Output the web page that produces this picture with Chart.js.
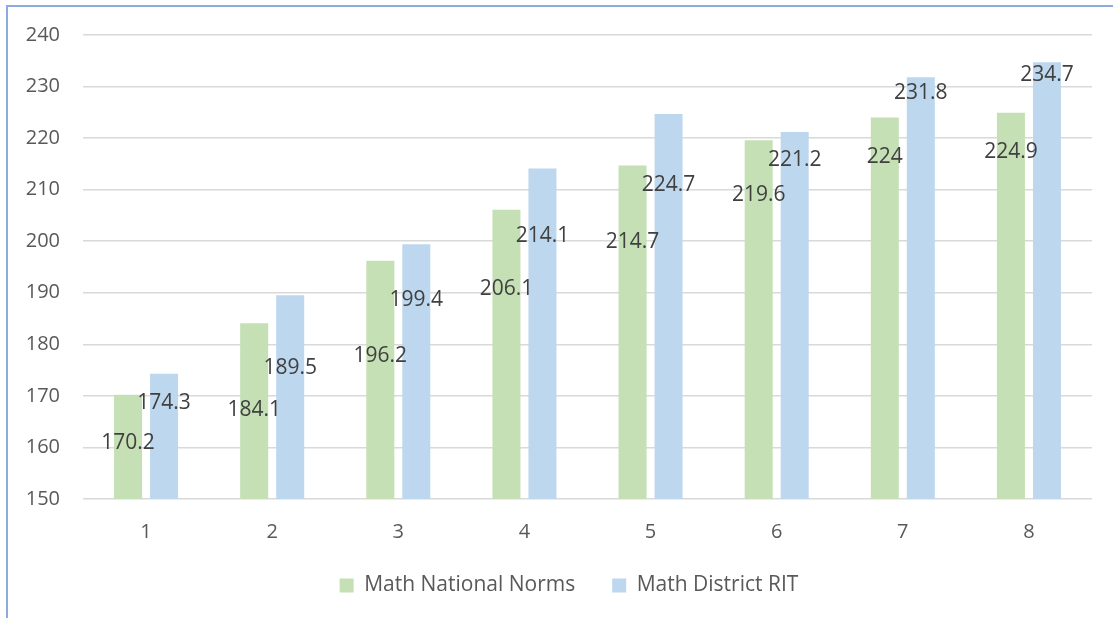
<!DOCTYPE html>
<html>
<head>
<meta charset="utf-8">
<script src="https://cdn.jsdelivr.net/npm/chart.js@4.4.1/dist/chart.umd.min.js"></script>
<style>
  html, body { margin: 0; padding: 0; background: #ffffff; overflow: hidden; }
  #wrap { position: relative; width: 1113px; height: 618px; }
  #frame {
    position: absolute; left: 6px; top: 5px; width: 1200px; height: 700px;
    border-left: 2px solid #8FAADC; border-top: 2px solid #8FAADC;
  }
  #scoreChart { position: absolute; left: 0; top: 0; }
</style>
</head>
<body>
<div id="wrap">
  <div id="frame"></div>
  <canvas id="scoreChart" width="1113" height="618"></canvas>
</div>
<script>
// Datos del gráfico
const grades = ['1', '2', '3', '4', '5', '6', '7', '8'];
const nationalNorms = [170.2, 184.1, 196.2, 206.1, 214.7, 219.6, 224, 224.9];
const districtRit = [174.3, 189.5, 199.4, 214.1, 224.7, 221.2, 231.8, 234.7];

// Desplazamiento de las etiquetas bajo el borde superior de cada barra (px)
const nationalLabelDrop = [48, 87, 95, 79, 77, 55, 40, 39];
const districtLabelDrop = [29, 73, 56, 67, 71, 28, 16, 13];

const fontFamily = '"Open Sans", "Noto Sans", sans-serif';

// Etiquetas de valor dibujadas sobre las barras
const valueLabels = {
    id: 'valueLabels',
    afterLayout(chart) {
        // centrar la leyenda como en el original (un poco a la derecha)
        chart.legend.left += 23;
        chart.legend.right += 23;
    },
    afterDatasetsDraw(chart) {
        const ctx = chart.ctx;
        const drops = [nationalLabelDrop, districtLabelDrop];
        ctx.save();
        ctx.font = '21px ' + fontFamily;
        ctx.fillStyle = '#404040';
        ctx.textAlign = 'center';
        ctx.textBaseline = 'middle';
        chart.data.datasets.forEach((ds, d) => {
            const meta = chart.getDatasetMeta(d);
            meta.data.forEach((bar, i) => {
                ctx.fillText(String(ds.data[i]), bar.x, bar.y + drops[d][i]);
            });
        });
        ctx.restore();
    }
};

const scoreCtx = document.getElementById('scoreChart').getContext('2d');

const scoreChart = new Chart(scoreCtx, {
    type: 'bar',
    data: {
        labels: grades,
        datasets: [{
            label: 'Math National Norms',
            data: nationalNorms,
            backgroundColor: '#C5E0B4',
            categoryPercentage: 0.571,
            barPercentage: 0.778
        }, {
            label: 'Math District RIT',
            data: districtRit,
            backgroundColor: '#BDD7EE',
            categoryPercentage: 0.571,
            barPercentage: 0.778
        }]
    },
    options: {
        responsive: false,
        animation: false,
        devicePixelRatio: 1,
        layout: {
            padding: { left: 0, right: 21, top: 35, bottom: 12 }
        },
        plugins: {
            legend: {
                position: 'bottom',
                labels: {
                    boxWidth: 14,
                    boxHeight: 14,
                    padding: 37,
                    color: '#595959',
                    font: { family: fontFamily, size: 21 }
                }
            },
            tooltip: { enabled: false }
        },
        scales: {
            x: {
                grid: { display: false },
                border: { display: false },
                ticks: {
                    color: '#595959',
                    padding: 13,
                    font: { family: fontFamily, size: 20 }
                },
                afterFit(scale) { scale.height = 39; }
            },
            y: {
                min: 150,
                max: 240,
                grid: { color: '#D9D9D9', lineWidth: 1.5, drawTicks: false },
                border: { display: false },
                ticks: {
                    stepSize: 10,
                    color: '#595959',
                    padding: 23,
                    font: { family: fontFamily, size: 20 }
                },
                afterFit(scale) { scale.width = 83; }
            }
        }
    },
    plugins: [valueLabels]
});
</script>
</body>
</html>
